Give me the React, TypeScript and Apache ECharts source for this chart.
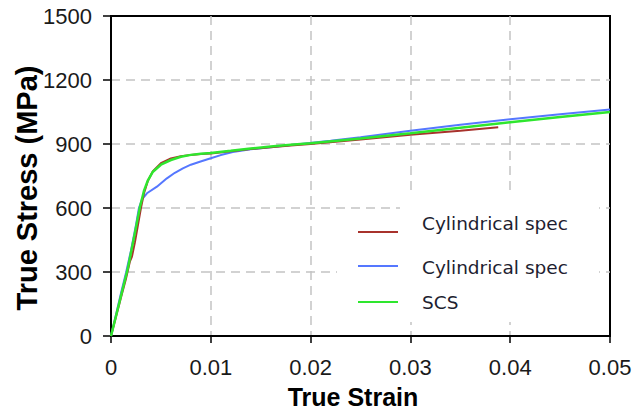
import React, { useEffect, useRef } from "react";
import * as echarts from "echarts";

// Strain / stress curves [true strain, true stress (MPa)]
const cylindricalA: [number, number][] = [
  [0, 0], [0.0005, 90], [0.001, 180], [0.0015, 268], [0.0019, 350], [0.0021, 372],
  [0.0024, 440], [0.0027, 520], [0.003, 600], [0.0033, 668], [0.0037, 728],
  [0.0042, 773], [0.005, 810], [0.006, 832], [0.007, 843], [0.008, 849],
  [0.009, 853], [0.01, 856], [0.012, 866], [0.014, 876], [0.016, 885],
  [0.018, 893], [0.02, 900], [0.025, 921], [0.03, 943], [0.035, 962], [0.0388, 978],
];

const cylindricalB: [number, number][] = [
  [0, 0], [0.0005, 100], [0.001, 200], [0.0015, 295], [0.002, 400], [0.0025, 520],
  [0.0028, 600], [0.0031, 640], [0.0036, 669], [0.0046, 700], [0.0056, 739],
  [0.0064, 765], [0.0072, 786], [0.008, 803], [0.0089, 817], [0.01, 833],
  [0.011, 848], [0.0122, 862], [0.014, 875], [0.016, 885], [0.019, 900],
  [0.022, 915], [0.025, 932], [0.03, 962], [0.035, 990], [0.04, 1016],
  [0.045, 1040], [0.05, 1062],
];

const scs: [number, number][] = [
  [0, 0], [0.0008, 150], [0.0017, 320], [0.0023, 460], [0.0029, 605],
  [0.0033, 680], [0.0037, 730], [0.0042, 770], [0.005, 803], [0.006, 825],
  [0.007, 840], [0.008, 849], [0.009, 854], [0.01, 858], [0.012, 868],
  [0.014, 879], [0.016, 888], [0.018, 896], [0.02, 904], [0.025, 926],
  [0.03, 950], [0.035, 976], [0.04, 1002], [0.045, 1027], [0.05, 1050],
];

const legendNames = ["Cylindrical spec", "Cylindrical spec", "SCS"];
const seriesColors = ["#a8322c", "#5577ff", "#2ee62e"];

const xTitle = "True Strain";
const yTitle = "True Stress (MPa)";

export default function App() {
  const ref = useRef<HTMLDivElement>(null);

  useEffect(() => {
    if (!ref.current) return;
    const chart = echarts.init(ref.current, null, { renderer: "svg" });

    const tickFont = {
      fontFamily: "Liberation Sans",
      fontSize: 22,
      color: "#1a1a1a",
    };
    const gridLine = {
      show: true,
      showMinLine: false,
      showMaxLine: false,
      lineStyle: { color: "#c4c4c4", width: 1.5, type: [9, 6] as number[] },
    };

    const legendRows = [
      { lineY: 232, textY: 223 },
      { lineY: 266, textY: 267 },
      { lineY: 302, textY: 302 },
    ];

    chart.setOption({
      animation: false,
      backgroundColor: "#ffffff",
      grid: {
        left: 111,
        right: 34,
        top: 16,
        bottom: 77,
        show: true,
        borderColor: "#000",
        borderWidth: 2,
        backgroundColor: "transparent",
      },
      xAxis: {
        type: "value",
        min: 0,
        max: 0.05,
        interval: 0.01,
        axisLine: { show: true, onZero: false, lineStyle: { color: "#000", width: 2 } },
        axisTick: { show: true, inside: false, length: 7, lineStyle: { color: "#000", width: 1.5 } },
        axisLabel: {
          ...tickFont,
          margin: 20,
          formatter: (v: number) => String(+v.toFixed(2)),
        },
        splitLine: gridLine,
      },
      yAxis: {
        type: "value",
        min: 0,
        max: 1500,
        interval: 300,
        axisLine: { show: true, onZero: false, lineStyle: { color: "#000", width: 2 } },
        axisTick: { show: true, inside: false, length: 8, lineStyle: { color: "#000", width: 1.5 } },
        axisLabel: { ...tickFont, margin: 19, formatter: (v: number) => String(v) },
        splitLine: gridLine,
      },
      series: [
        {
          type: "line",
          name: legendNames[1],
          data: cylindricalB,
          showSymbol: false,
          lineStyle: { color: seriesColors[1], width: 2 },
          z: 2,
        },
        {
          type: "line",
          name: legendNames[0],
          data: cylindricalA,
          showSymbol: false,
          lineStyle: { color: seriesColors[0], width: 2 },
          z: 3,
        },
        {
          type: "line",
          name: legendNames[2],
          data: scs,
          showSymbol: false,
          lineStyle: { color: seriesColors[2], width: 2.5 },
          z: 4,
        },
      ],
      graphic: [
        // legend panel
        {
          type: "rect",
          shape: { x: 400, y: 195, width: 199, height: 127 },
          style: { fill: "#ffffff" },
          z: 10,
        },
        {
          type: "rect",
          shape: { x: 337, y: 211, width: 64, height: 111 },
          style: { fill: "#ffffff" },
          z: 10,
        },
        ...legendRows.flatMap((row, i) => [
          {
            type: "line",
            shape: { x1: 358, y1: row.lineY, x2: 398, y2: row.lineY },
            style: { stroke: seriesColors[i], lineWidth: 2 },
            z: 11,
          },
          {
            type: "text",
            x: 422,
            y: row.textY,
            style: {
              text: legendNames[i],
              fontFamily: "DejaVu Sans",
              fontSize: 18.5,
              fill: "#1e1e30",
              align: "left",
              verticalAlign: "middle",
            },
            z: 11,
          },
        ]),
        // axis titles
        {
          type: "text",
          x: 353,
          y: 397,
          style: {
            text: xTitle,
            fontFamily: "Liberation Sans",
            fontWeight: "bold",
            fontSize: 25,
            fill: "#000",
            align: "center",
            verticalAlign: "middle",
          },
        },
        {
          type: "text",
          x: 27,
          y: 188,
          rotation: Math.PI / 2,
          style: {
            text: yTitle,
            fontFamily: "Liberation Sans",
            fontWeight: "bold",
            fontSize: 29,
            fill: "#000",
            align: "center",
            verticalAlign: "middle",
          },
        },
      ],
    });

    return () => chart.dispose();
  }, []);

  return <div ref={ref} style={{ width: 644, height: 413, position: "absolute", left: 0, top: 0 }} />;
}
